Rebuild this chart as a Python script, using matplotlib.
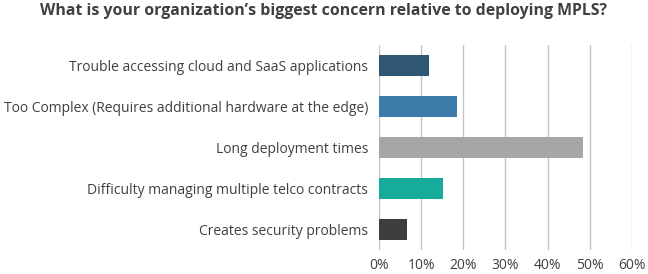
import matplotlib
matplotlib.use("Agg")
import matplotlib.pyplot as plt

plt.rcParams['font.family'] = ['Open Sans', 'DejaVu Sans']

categories = [
    "Trouble accessing cloud and SaaS applications",
    "Too Complex (Requires additional hardware at the edge)",
    "Long deployment times",
    "Difficulty managing multiple telco contracts",
    "Creates security problems",
]
values = [11.8, 18.4, 48.4, 15.1, 6.7]
colors = ["#2f5773", "#3b7ca8", "#a6a6a6", "#17ab9c", "#3d3d3d"]
xticks = [0, 10, 20, 30, 40, 50, 60]

fig = plt.figure(figsize=(6.48, 2.74), dpi=100)
ax = fig.add_axes([0.585, 0.088, 0.39, 0.748])

ypos = list(range(len(categories)))
ax.barh(ypos, values, height=0.5, color=colors, zorder=3)
ax.set_ylim(4.5, -0.5)
ax.set_xlim(0, 60)
ax.set_xticks(xticks)
ax.set_xticklabels([f"{t}%" for t in xticks])
ax.set_yticks(ypos)
ax.set_yticklabels(categories)
ax.grid(axis='x', color='#c4c4c4', linewidth=1, zorder=0)
for s in ax.spines.values():
    s.set_visible(False)
ax.tick_params(length=0, labelsize=10, colors='#404040', pad=8)
ax.tick_params(axis='x', pad=6)

fig.text(0.5, 0.96, "What is your organization\u2019s biggest concern relative to deploying MPLS?",
         ha='center', va='center', fontsize=11.4, fontweight='bold', color='#404040')

fig.savefig("out.png", dpi=100)
